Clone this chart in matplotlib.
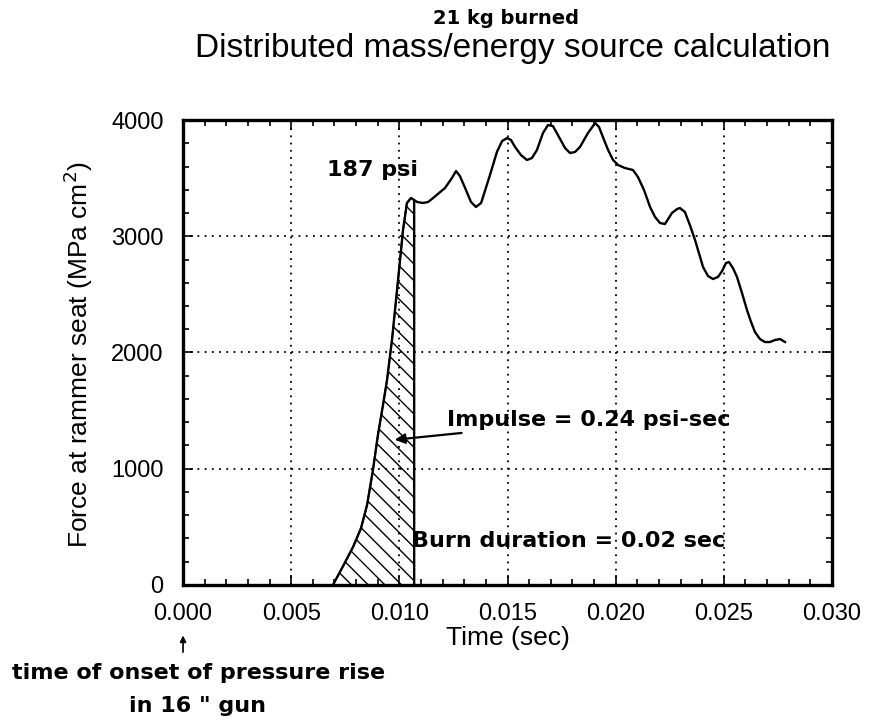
import matplotlib.pyplot as plt
import numpy as np

# force curve (time in s, force in MPa cm^2)
t = [0.00693, 0.0074, 0.00786, 0.00823, 0.00851, 0.00878, 0.00901, 0.00925,
     0.00943, 0.00966, 0.00994, 0.01017, 0.01035, 0.01054, 0.01082, 0.01109,
     0.01133, 0.01156, 0.01211, 0.01243, 0.01262, 0.0128, 0.01308, 0.01331,
     0.01354, 0.01378, 0.01419, 0.01451, 0.01475, 0.01498, 0.01516, 0.01535,
     0.01562, 0.0159, 0.01613, 0.01636, 0.01664, 0.01687, 0.0171, 0.01733,
     0.01766, 0.01789, 0.01812, 0.01835, 0.01872, 0.01905, 0.01923, 0.01941,
     0.01965, 0.01988, 0.02011, 0.02043, 0.0208, 0.02103, 0.02131, 0.02159,
     0.02182, 0.02205, 0.02228, 0.0226, 0.02284, 0.02297, 0.0232, 0.02343,
     0.02367, 0.02404, 0.02427, 0.0245, 0.02473, 0.02492, 0.0251, 0.02524,
     0.02542, 0.02561, 0.02584, 0.02607, 0.02626, 0.02644, 0.02667, 0.0269,
     0.02713, 0.02736, 0.0276, 0.02783]
force = [0, 163, 327, 490, 690, 990, 1290, 1555,
         1763, 2108, 2624, 3054, 3286, 3329, 3295, 3286,
         3295, 3329, 3415, 3501, 3561, 3518, 3398, 3295,
         3252, 3286, 3527, 3725, 3819, 3845, 3828, 3768,
         3699, 3656, 3673, 3742, 3888, 3957, 3948, 3871,
         3759, 3716, 3725, 3768, 3888, 3974, 3940, 3854,
         3742, 3656, 3613, 3587, 3570, 3510, 3398, 3252,
         3166, 3114, 3105, 3200, 3234, 3243, 3209, 3097,
         2968, 2735, 2658, 2632, 2650, 2701, 2770, 2778,
         2727, 2650, 2512, 2366, 2262, 2176, 2116, 2090,
         2090, 2107, 2116, 2090]

burn_end = 0.0107

xticks = [0.000, 0.005, 0.010, 0.015, 0.020, 0.025, 0.030]
yticks = [0, 1000, 2000, 3000, 4000]


def main():
    plt.rcParams["font.family"] = ["Liberation Sans", "DejaVu Sans"]

    fig = plt.figure(figsize=(8.72, 7.23), dpi=100)
    ax = fig.add_axes([0.2099, 0.1909, 0.7442, 0.6431])

    tt = np.array(t)
    ff = np.array(force)
    ax.plot(tt, ff, color="black", lw=1.7, zorder=3, solid_joinstyle="round")

    # hatched burn region
    m = tt <= burn_end
    ht = np.append(tt[m], burn_end)
    hf = np.append(ff[m], np.interp(burn_end, tt, ff))
    ax.fill_between(ht, 0, hf, facecolor="none", edgecolor="black",
                    hatch="\\\\", lw=1.2, zorder=2)
    ax.plot([burn_end, burn_end], [0, hf[-1]], color="black", lw=1.5, zorder=3)

    ax.set_xlim(0, 0.030)
    ax.set_ylim(0, 4000)
    ax.set_xticks(xticks)
    ax.set_xticklabels([f"{v:.3f}" for v in xticks])
    ax.set_yticks(yticks)
    ax.set_xticks(np.arange(0, 0.0301, 0.001), minor=True)
    ax.set_yticks(np.arange(0, 4001, 200), minor=True)
    ax.tick_params(which="both", direction="in", top=True, right=True,
                   labelsize=17, width=1.2)
    ax.tick_params(which="major", length=7)
    ax.tick_params(axis="x", which="major", pad=13)
    ax.tick_params(axis="y", which="major", pad=14)
    ax.tick_params(which="minor", length=4)
    for s in ax.spines.values():
        s.set_linewidth(2.4)
    ax.grid(True, which="major", color="black", linestyle=(0, (1, 3)), lw=1.3)

    ax.set_xlabel("Time (sec)", fontsize=19, labelpad=1)
    ax.set_ylabel("Force at rammer seat (MPa cm$^2$)", fontsize=19)
    ax.yaxis.set_label_coords(-0.136, 0.495)

    bold = dict(fontweight="heavy", family="DejaVu Sans", color="black")
    fig.text(0.58, 0.975, "21 kg burned", ha="center", va="center",
             fontsize=14, **bold)
    fig.text(0.588, 0.933, "Distributed mass/energy source calculation",
             ha="center", va="center", fontsize=24)

    ax.text(0.00666, 3570, "187 psi", fontsize=16, ha="left", va="center", **bold)
    ax.annotate("Impulse = 0.24 psi-sec", xy=(0.00966, 1247), xytext=(0.0122, 1419),
                fontsize=16, ha="left", va="center",
                arrowprops=dict(arrowstyle="-|>", color="black", lw=1.6,
                                mutation_scale=15, shrinkA=1), **bold)
    ax.text(0.01059, 378, "Burn duration = 0.02 sec", fontsize=16,
            ha="left", va="center", **bold)

    ax.annotate("", xy=(0.2099, 0.121), xytext=(0.2099, 0.098),
                xycoords="figure fraction", textcoords="figure fraction",
                annotation_clip=False,
                arrowprops=dict(arrowstyle="-|>", color="black", lw=1.2,
                                mutation_scale=9, shrinkA=0, shrinkB=0))
    fig.text(0.228, 0.069, "time of onset of pressure rise", ha="center",
             va="center", fontsize=16, **bold)
    fig.text(0.226, 0.023, "in 16 \" gun", ha="center", va="center",
             fontsize=16, **bold)

    plt.savefig("out.png", dpi=100)


if __name__ == "__main__":
    main()
